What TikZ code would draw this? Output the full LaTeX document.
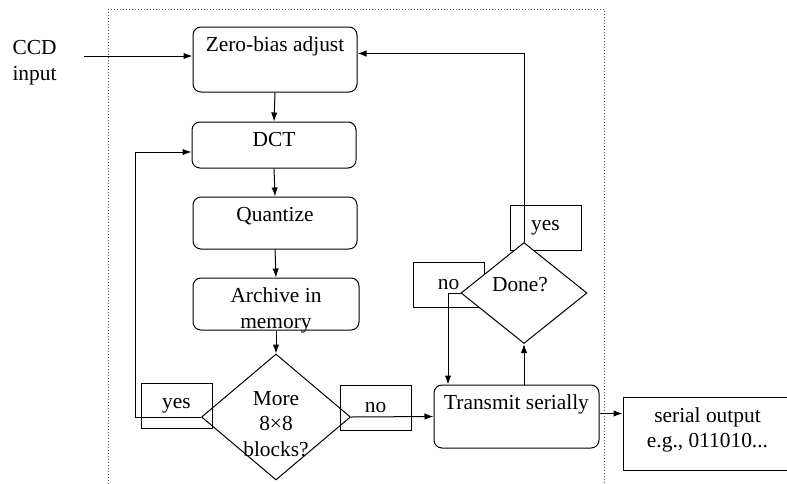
\documentclass[tikz,border=0pt]{standalone}
\usepackage{fontspec}
\setmainfont{Liberation Serif}
\usepackage{xcolor}
\definecolor{framegray}{RGB}{80,80,80}
\usepackage{tikz}
\usetikzlibrary{shapes.geometric,arrows.meta,positioning,calc}

\tikzset{
  procbox/.style={draw, rounded corners=4pt, inner sep=0pt, minimum width=82pt},
  boxtext/.style={anchor=north, inner sep=0pt, yshift=-5pt, align=center},
  decision/.style={draw, diamond, fill=white, inner sep=0pt},
  tagbox/.style={draw, rectangle, inner sep=0pt, minimum width=35.5pt, minimum height=22.5pt},
  arr/.style={-{Latex[length=4.5pt,width=3.2pt]}},
}

\begin{document}
\begin{tikzpicture}[x=0.5pt,y=-0.5pt,line width=0.5pt,font=\fontsize{10.7}{12.8}\selectfont]
\useasboundingbox (0,0) rectangle (787,483);
\clip (0,0) rectangle (787,483);
\draw[framegray,densely dotted] (108,9) rectangle (604,520);

\node[align=left,anchor=north west,inner sep=0pt] (ccd) at (12,40) {CCD\\input};
\coordinate (ccdin) at (84,56);

\node[procbox,minimum height=32.5pt,label={[boxtext]north:Zero-bias adjust}] (zero) at (275,59.5) {};
\node[procbox,minimum height=23pt,label={[boxtext]north:DCT}] (dct) at (274,145) {};
\node[procbox,minimum height=26pt,label={[boxtext]north:Quantize}] (quant) at (275,223) {};
\node[procbox,minimum width=83pt,minimum height=26pt,label={[boxtext]north:Archive in\\memory}] (arch) at (276,304) {};
\node[procbox,minimum width=82.5pt,minimum height=31.5pt,label={[boxtext]north:Transmit serially}] (trans) at (516.5,416.5) {};

\node[decision,minimum width=74.5pt,minimum height=63pt] (more) at (276,417) {};
\node[align=center,inner sep=0pt] (moretxt) at (276,424) {More\\8×8\\blocks?};
\node[tagbox] (yesA) at (176.5,405.5) {yes};
\node[tagbox] (noA) at (375.5,407.5) {no};

\node[tagbox] (yesB) at (545.5,227.5) {yes};
\node[tagbox] (noB) at (448.5,284.5) {no};
\node[decision,minimum width=63pt,minimum height=50.5pt] (done) at (524,293) {};
\node (donetxt) at (520,284.5) {Done?};

\node[draw,minimum width=90pt,minimum height=36.5pt] (out) at (713,433.5) {};
\node[align=center,inner sep=0pt] (outtxt) at (707.5,430) {serial output\\e.g., 011010...};

\draw[arr] (ccdin) -- (ccdin -| zero.west);
\foreach \a/\b in {zero/dct,dct/quant,quant/arch,arch/more}
  \draw[arr] (\a.south) -- (\b.north);
\draw[arr] (more.west) -- ++(-33pt,0) |- ([yshift=-3.5pt]dct.west);
\draw[arr] (more.east) -- (trans.west);
\draw[arr] (trans.north -| done.south) -- (done.south);
\draw[arr] (done.north) |- ([yshift=3pt]zero.east);
\draw[arr] (done.west) -| ([xshift=-34.25pt]trans.north);
\draw[arr] ([yshift=1.5pt]trans.east) -- ([yshift=1.5pt]trans.east -| out.west);
\end{tikzpicture}
\end{document}
